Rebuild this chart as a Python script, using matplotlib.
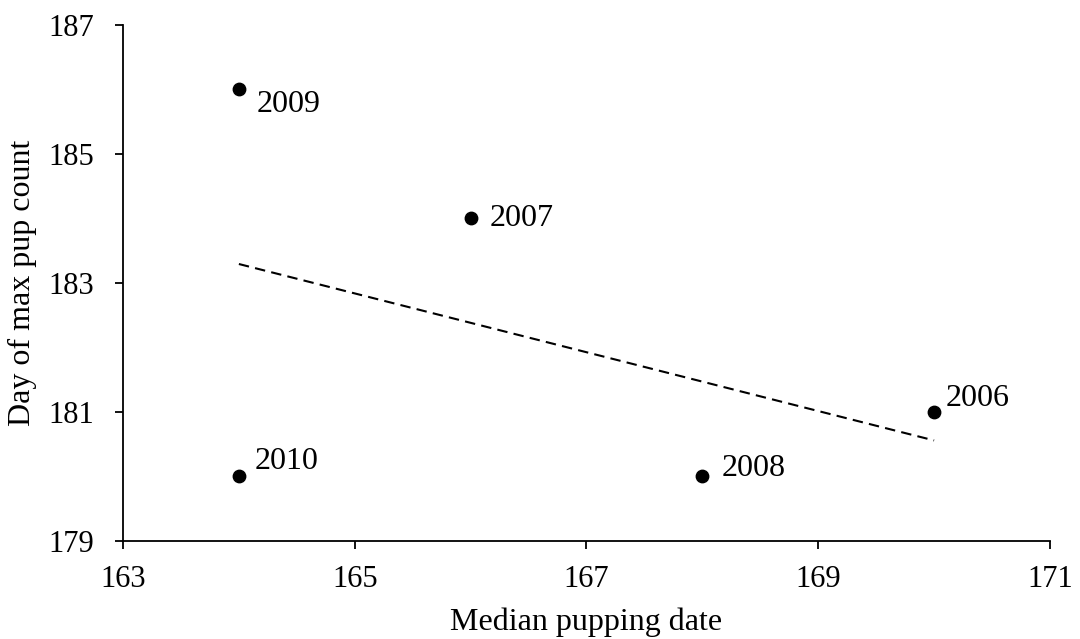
import numpy as np
import matplotlib
matplotlib.use("Agg")
import matplotlib.pyplot as plt

plt.rcParams['font.family'] = ['Liberation Serif', 'DejaVu Serif']

# median pupping date vs day of max pup count, per year
years = ["2006", "2007", "2008", "2009", "2010"]
median_date = [170, 166, 168, 164, 164]
max_count_day = [181, 184, 180, 186, 180]

# label offsets in points (dx, dy)
label_offsets = {"2006": (8, 10), "2007": (14, 0), "2008": (14, 6),
                 "2009": (13, -11), "2010": (11, 11)}

fig = plt.figure(figsize=(10.8, 6.39), dpi=100)
ax = fig.add_axes([0.1139, 0.1534, 0.8583, 0.8075])

ax.scatter(median_date, max_count_day, s=80, color="black", zorder=3)

# linear trend line
slope, intercept = np.polyfit(median_date, max_count_day, 1)
xfit = np.array([min(median_date), max(median_date)])
ax.plot(xfit, slope * xfit + intercept, color="black", lw=1.5,
        dashes=(5, 3))

for yr, xv, yv in zip(years, median_date, max_count_day):
    dx, dy = label_offsets[yr]
    ax.annotate(yr, (xv, yv), xytext=(dx, dy), textcoords="offset points",
                ha="left", va="center", fontsize=23)

ax.set_xlim(163, 171)
ax.set_ylim(179, 187)
ax.set_xticks([163, 165, 167, 169, 171])
ax.set_yticks([179, 181, 183, 185, 187])
ax.tick_params(labelsize=22, direction="out", length=6, width=1.3)
ax.tick_params(axis="x", pad=11)
ax.tick_params(axis="y", pad=15)
for s in ["top", "right"]:
    ax.spines[s].set_visible(False)
for s in ["left", "bottom"]:
    ax.spines[s].set_linewidth(1.3)

ax.set_xlabel("Median pupping date", fontsize=23, labelpad=10)
ax.set_ylabel("Day of max pup count", fontsize=23, labelpad=8)

fig.savefig("out.png", dpi=100)
